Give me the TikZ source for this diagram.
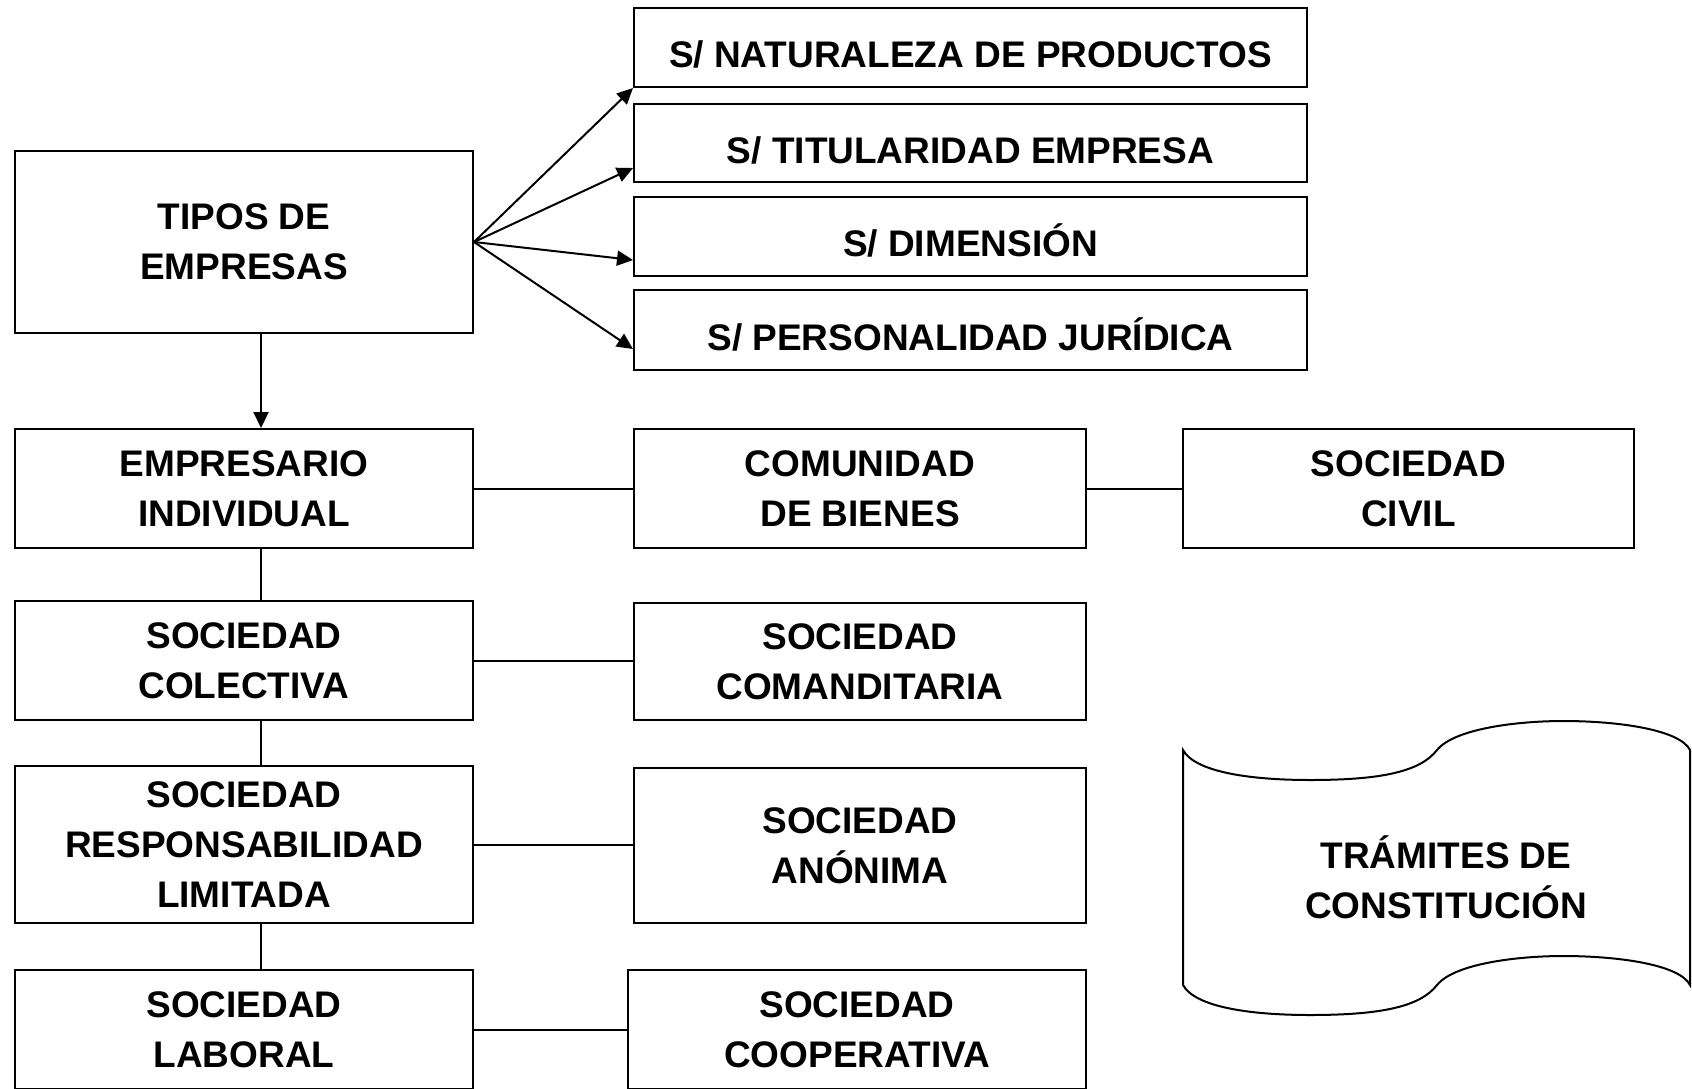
\documentclass[tikz,border=0pt]{standalone}
\usepackage{fontspec}
\setmainfont{Liberation Sans}
\usepackage{tikz}
\usetikzlibrary{arrows.meta}

\begin{document}
\begin{tikzpicture}[x=0.5pt,y=-0.5pt,line width=1pt,
    box/.style={draw,rectangle,align=center,inner sep=2pt,
      font=\fontsize{18.5}{25}\selectfont\bfseries},
    catbox/.style={box,minimum width=336.5pt,text height=23pt,text depth=3pt},
    >={Triangle[length=8pt,width=7.5pt]}]
  \useasboundingbox (0,0) rectangle (1692,1088);
  \coordinate (trunk) at (261,0);
  \node[box,minimum width=229pt,minimum height=91pt] (tipos) at (244,242) {TIPOS DE\\EMPRESAS};
  \node[catbox,minimum height=39.5pt] (nat) at (970.5,47.5) {S/ NATURALEZA DE PRODUCTOS};
  \node[catbox,minimum height=39pt] (tit) at (970.5,143) {S/ TITULARIDAD EMPRESA};
  \node[catbox,minimum height=39.5pt] (dim) at (970.5,236.5) {S/ DIMENSIÓN};
  \node[catbox,minimum height=40pt] (per) at (970.5,330) {S/ PERSONALIDAD JURÍDICA};
  \draw[->] (tipos.east) -- (nat.south west);
  \draw[->] (tipos.east) -- ([yshift=7.5pt]tit.south west);
  \draw[->] (tipos.east) -- ([yshift=8.5pt]dim.south west);
  \draw[->] (tipos.east) -- ([yshift=11pt]per.south west);
  \node[box,minimum width=229pt,minimum height=59.5pt] (emp) at (244,488.5) {EMPRESARIO\\INDIVIDUAL};
  \node[box,minimum width=229pt,minimum height=59.5pt] (col) at (244,660.5) {SOCIEDAD\\COLECTIVA};
  \node[box,minimum width=229pt,minimum height=78.5pt] (srl) at (244,844.5) {SOCIEDAD\\RESPONSABILIDAD\\LIMITADA};
  \node[box,minimum width=229pt,minimum height=59.5pt] (lab) at (244,1029.5) {SOCIEDAD\\LABORAL};
  \node[box,minimum width=226pt,minimum height=59.5pt] (com) at (860,488.5) {COMUNIDAD\\DE BIENES};
  \node[box,minimum width=226pt,minimum height=58.5pt] (cmd) at (860,661.5) {SOCIEDAD\\COMANDITARIA};
  \node[box,minimum width=226pt,minimum height=77.5pt] (ano) at (860,845.5) {SOCIEDAD\\ANÓNIMA};
  \node[box,minimum width=229pt,minimum height=59.5pt] (coop) at (857,1029.5) {SOCIEDAD\\COOPERATIVA};
  \node[box,minimum width=225.5pt,minimum height=59.5pt] (civ) at (1408.5,488.5) {SOCIEDAD\\CIVIL};
  \draw[->] (tipos.south -| trunk) -- (emp.north -| trunk);
  \draw (emp.south -| trunk) -- (col.north -| trunk);
  \draw (col.south -| trunk) -- (srl.north -| trunk);
  \draw (srl.south -| trunk) -- (lab.north -| trunk);
  \draw (emp.east) -- (emp.east -| com.west);
  \draw (com.east) -- (com.east -| civ.west);
  \draw (col.east) -- (col.east -| cmd.west);
  \draw (srl.east) -- (srl.east -| ano.west);
  \draw (lab.east) -- (lab.east -| coop.west);
  \draw (1183,750) .. controls (1195,772) and (1250,780) .. (1310,780)
    .. controls (1380,780) and (1420,772) .. (1437,750)
    .. controls (1455,728) and (1520,721) .. (1563,721)
    .. controls (1620,721) and (1680,730) .. (1690,750)
    -- (1690,985)
    .. controls (1680,965) and (1620,956) .. (1563,956)
    .. controls (1520,956) and (1455,963) .. (1437,985)
    .. controls (1420,1007) and (1380,1015) .. (1310,1015)
    .. controls (1250,1015) and (1195,1007) .. (1183,985) -- cycle;
  \node[align=center,font=\fontsize{18.5}{25}\selectfont\bfseries] (tram) at (1446,877) {TRÁMITES DE\\CONSTITUCIÓN};
\end{tikzpicture}
\end{document}
